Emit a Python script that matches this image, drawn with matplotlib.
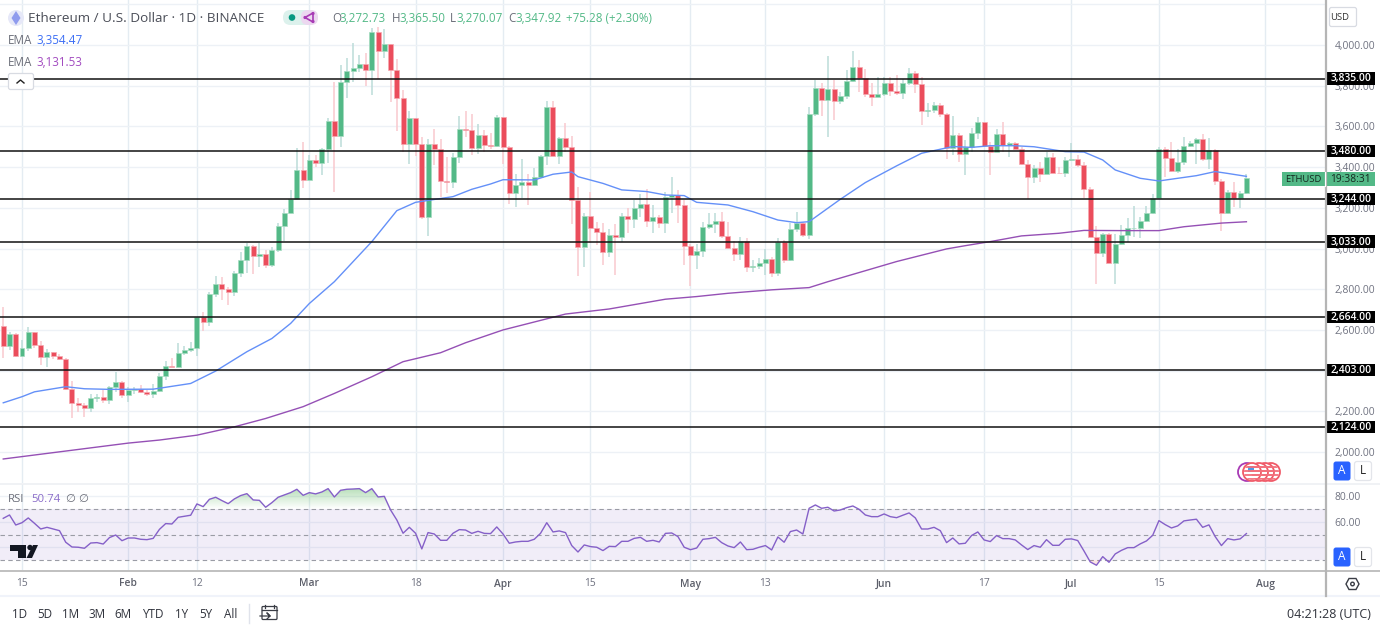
import numpy as np
import pandas as pd
import matplotlib
matplotlib.use("Agg")
import matplotlib.pyplot as plt
import matplotlib.dates as mdates
from matplotlib.patches import Circle, FancyBboxPatch, Polygon, Rectangle
from matplotlib.path import Path

plt.rcParams['font.family'] = ['Open Sans', 'DejaVu Sans']

# ETHUSD daily candles, 12 Jan to 29 Jul 2024
dates = pd.date_range('2024-01-12', periods=200)
first_open = 2619
closes = [
    2521, 2580, 2470, 2511, 2589, 2526, 2468, 2491, 2472, 2457,
    2311, 2242, 2232, 2216, 2268, 2270, 2255, 2318, 2345, 2280,
    2304, 2308, 2295, 2286, 2300, 2373, 2422, 2417, 2486, 2501,
    2509, 2663, 2639, 2776, 2825, 2801, 2784, 2879, 2943, 3012,
    2963, 2971, 2919, 2992, 3112, 3176, 3241, 3386, 3338, 3435,
    3420, 3489, 3628, 3553, 3818, 3872, 3888, 3906, 3875, 4062,
    3970, 4003, 3877, 3738, 3515, 3641, 3515, 3157, 3514, 3491,
    3332, 3329, 3451, 3589, 3582, 3494, 3558, 3509, 3504, 3646,
    3501, 3274, 3311, 3327, 3312, 3351, 3455, 3695, 3455, 3543,
    3501, 3237, 3007, 3160, 3099, 3081, 2983, 3066, 3057, 3160,
    3145, 3201, 3221, 3137, 3155, 3127, 3253, 3262, 3213, 3013,
    2970, 2986, 3106, 3121, 3137, 3062, 3003, 2972, 3037, 2910,
    2913, 2929, 2950, 2880, 3034, 2944, 3095, 3127, 3068, 3661,
    3787, 3730, 3783, 3724, 3750, 3825, 3891, 3838, 3760, 3742,
    3760, 3812, 3776, 3763, 3812, 3864, 3809, 3676, 3681, 3706,
    3661, 3496, 3558, 3463, 3501, 3566, 3620, 3505, 3476, 3563,
    3509, 3517, 3489, 3415, 3350, 3396, 3366, 3448, 3373, 3371,
    3435, 3440, 3412, 3291, 3058, 2980, 3070, 2931, 3022, 3066,
    3101, 3103, 3137, 3176, 3247, 3487, 3443, 3383, 3427, 3504,
    3517, 3537, 3438, 3484, 3332, 3173, 3278, 3250, 3271, 3347.92,
]
highs = [
    2711, 2591, 2583, 2553, 2616, 2591, 2547, 2504, 2493, 2481,
    2463, 2347, 2264, 2239, 2283, 2283, 2304, 2324, 2391, 2350,
    2321, 2321, 2329, 2304, 2334, 2390, 2447, 2462, 2534, 2521,
    2540, 2665, 2688, 2788, 2865, 2858, 2809, 2891, 2983, 3025,
    3019, 3028, 2992, 3006, 3123, 3195, 3287, 3492, 3522, 3459,
    3459, 3492, 3640, 3816, 3902, 3934, 4011, 3951, 3962, 4082,
    4087, 4079, 4003, 3930, 3779, 3676, 3641, 3546, 3537, 3586,
    3540, 3451, 3468, 3651, 3677, 3661, 3612, 3582, 3566, 3656,
    3645, 3504, 3366, 3438, 3366, 3394, 3460, 3727, 3725, 3550,
    3618, 3553, 3301, 3176, 3276, 3132, 3124, 3094, 3121, 3173,
    3198, 3239, 3268, 3291, 3214, 3165, 3280, 3353, 3288, 3239,
    3021, 3023, 3132, 3173, 3173, 3177, 3132, 3037, 3059, 3050,
    2944, 2952, 2996, 2960, 3050, 3042, 3124, 3180, 3132, 3697,
    3828, 3812, 3946, 3828, 3771, 3878, 3971, 3927, 3882, 3812,
    3845, 3842, 3842, 3851, 3832, 3886, 3874, 3842, 3714, 3722,
    3714, 3668, 3651, 3566, 3533, 3591, 3648, 3623, 3525, 3586,
    3623, 3525, 3525, 3500, 3435, 3410, 3427, 3476, 3468, 3402,
    3451, 3517, 3460, 3427, 3304, 3111, 3075, 3075, 3071, 3116,
    3148, 3211, 3157, 3211, 3268, 3497, 3500, 3525, 3487, 3546,
    3530, 3545, 3563, 3541, 3487, 3340, 3288, 3325, 3284, 3365.5,
]
lows = [
    2460, 2501, 2468, 2468, 2498, 2509, 2427, 2419, 2457, 2452,
    2304, 2168, 2195, 2173, 2198, 2247, 2242, 2236, 2296, 2267,
    2246, 2283, 2288, 2275, 2268, 2293, 2354, 2416, 2416, 2478,
    2493, 2472, 2596, 2621, 2763, 2747, 2721, 2766, 2858, 2881,
    2874, 2911, 2904, 2911, 2984, 3038, 3173, 3238, 3296, 3336,
    3399, 3361, 3422, 3279, 3500, 3738, 3820, 3869, 3798, 3754,
    3833, 3935, 3721, 3579, 3476, 3415, 3455, 3145, 3062, 3410,
    3255, 3275, 3299, 3419, 3550, 3460, 3465, 3473, 3487, 3501,
    3415, 3219, 3206, 3250, 3214, 3309, 3348, 3410, 3455, 3415,
    3476, 3120, 2865, 2911, 3029, 3016, 2919, 2957, 2870, 3031,
    3075, 3100, 3157, 3108, 3078, 3103, 3075, 3173, 3124, 2919,
    2816, 2898, 2960, 3095, 3075, 3050, 3001, 2941, 2944, 2887,
    2887, 2898, 2870, 2862, 2867, 2928, 2937, 3083, 3059, 3047,
    3651, 3651, 3550, 3632, 3711, 3733, 3820, 3768, 3743, 3701,
    3743, 3750, 3750, 3755, 3735, 3804, 3763, 3609, 3645, 3665,
    3645, 3439, 3460, 3427, 3361, 3473, 3540, 3500, 3361, 3473,
    3476, 3451, 3487, 3410, 3243, 3324, 3327, 3365, 3369, 3369,
    3353, 3430, 3402, 3247, 3055, 2824, 2957, 2927, 2827, 3016,
    3034, 3058, 3050, 3132, 3170, 3243, 3350, 3378, 3373, 3410,
    3500, 3415, 3428, 3391, 3312, 3088, 3170, 3202, 3201, 3270.07,
]
rsi = [
    62.6, 65.2, 57.4, 59.2, 62.9, 58.7, 54.3, 55.6, 54.3, 53.0,
    44.0, 40.3, 40.1, 39.3, 43.4, 43.7, 42.6, 47.6, 49.6, 45.2,
    47.3, 47.3, 46.3, 46.0, 47.0, 54.0, 58.5, 58.2, 63.4, 64.2,
    65.0, 73.8, 71.7, 77.4, 79.0, 76.4, 74.0, 77.7, 80.3, 81.8,
    76.9, 76.6, 71.2, 74.8, 79.0, 80.8, 82.6, 85.2, 80.5, 82.6,
    81.6, 83.1, 85.7, 79.2, 84.4, 85.2, 85.4, 85.7, 82.6, 85.7,
    79.2, 79.7, 69.1, 61.3, 51.0, 55.6, 51.0, 38.8, 51.5, 50.4,
    45.5, 45.5, 51.0, 53.8, 53.5, 50.9, 52.5, 50.9, 50.7, 55.9,
    50.4, 43.2, 44.2, 44.7, 44.7, 46.3, 50.9, 59.2, 52.0, 52.8,
    51.5, 41.4, 36.4, 41.9, 40.6, 40.1, 37.5, 40.8, 40.6, 44.7,
    44.7, 47.0, 47.8, 44.7, 45.5, 44.2, 50.9, 51.2, 48.4, 40.1,
    38.2, 39.5, 46.3, 46.8, 47.8, 43.7, 41.1, 39.8, 44.2, 38.2,
    38.5, 40.1, 41.4, 38.0, 48.1, 44.0, 52.3, 53.5, 50.4, 70.4,
    73.0, 70.4, 71.2, 68.3, 69.1, 70.9, 72.2, 69.6, 65.2, 63.9,
    63.9, 66.0, 63.9, 63.1, 65.0, 66.8, 62.9, 54.3, 54.3, 55.6,
    53.0, 43.7, 47.3, 42.7, 43.2, 49.2, 52.0, 45.8, 44.5, 49.2,
    46.8, 46.8, 45.8, 41.9, 38.3, 41.4, 40.1, 46.0, 41.6, 41.6,
    46.3, 46.6, 45.3, 37.2, 28.7, 26.1, 32.8, 28.4, 34.9, 37.7,
    39.8, 39.8, 42.7, 45.0, 49.4, 60.8, 57.7, 55.1, 56.7, 60.6,
    61.3, 61.9, 55.6, 57.5, 48.4, 41.4, 46.8, 45.8, 46.6, 50.74,
]

# EMA curves, read at the turning points
ema50_dates = pd.to_datetime([
    '2024-01-12', '2024-01-15', '2024-01-17', '2024-01-22', '2024-01-25', '2024-01-29',
    '2024-02-05', '2024-02-11', '2024-02-15', '2024-02-20', '2024-02-24', '2024-02-27',
    '2024-03-01', '2024-03-05', '2024-03-11', '2024-03-15', '2024-03-18', '2024-03-24',
    '2024-03-27', '2024-03-30', '2024-04-01', '2024-04-06', '2024-04-09', '2024-04-12',
    '2024-04-13', '2024-04-17', '2024-04-20', '2024-04-24', '2024-04-27', '2024-04-30',
    '2024-05-02', '2024-05-07', '2024-05-11', '2024-05-15', '2024-05-18', '2024-05-20',
    '2024-05-25', '2024-05-29', '2024-06-03', '2024-06-07', '2024-06-12', '2024-06-15',
    '2024-06-18', '2024-06-22', '2024-06-25', '2024-06-30', '2024-07-03', '2024-07-06',
    '2024-07-08', '2024-07-12', '2024-07-15', '2024-07-18', '2024-07-21', '2024-07-24',
    '2024-07-26', '2024-07-29',
])
ema50 = [
    2242, 2272, 2296, 2321, 2311, 2308, 2309, 2337, 2398, 2493, 2558, 2632,
    2730, 2837, 3034, 3186, 3227, 3255, 3291, 3317, 3338, 3337, 3365, 3376,
    3353, 3320, 3288, 3280, 3263, 3260, 3227, 3214, 3181, 3140, 3127, 3132,
    3242, 3324, 3406, 3468, 3501, 3497, 3505, 3505, 3500, 3476, 3474, 3435,
    3386, 3345, 3332, 3345, 3358, 3378, 3369, 3354.47,
]
ema200_dates = pd.to_datetime([
    '2024-01-12', '2024-02-01', '2024-02-06', '2024-02-12', '2024-02-18', '2024-02-23',
    '2024-02-29', '2024-03-05', '2024-03-11', '2024-03-16', '2024-03-22', '2024-03-26',
    '2024-04-01', '2024-04-11', '2024-04-18', '2024-04-27', '2024-05-02', '2024-05-07',
    '2024-05-14', '2024-05-20', '2024-05-23', '2024-05-29', '2024-06-03', '2024-06-11',
    '2024-06-14', '2024-06-18', '2024-06-23', '2024-06-29', '2024-07-03', '2024-07-09',
    '2024-07-15', '2024-07-19', '2024-07-25', '2024-07-29',
])
ema200 = [
    1966, 2044, 2059, 2083, 2124, 2165, 2223, 2288, 2370, 2444, 2488, 2537,
    2600, 2678, 2703, 2751, 2764, 2780, 2797, 2808, 2837, 2891, 2936, 2998,
    3014, 3034, 3062, 3075, 3089, 3088, 3088, 3107, 3125, 3131.53,
]

sr_levels = [3835, 3480, 3244, 3033, 2664, 2403, 2124]
price_ticks = list(range(2000, 4001, 200))
rsi_grid = [80, 60, 40]
rsi_labels = [80, 60]
xtick_dates = pd.to_datetime([
    '2024-01-15', '2024-02-01', '2024-02-12', '2024-03-01', '2024-03-18', '2024-04-01', '2024-04-15',
    '2024-05-01', '2024-05-13', '2024-06-01', '2024-06-17', '2024-07-01', '2024-07-15', '2024-08-01',
])
xtick_labels = ['15', 'Feb', '12', 'Mar', '18', 'Apr', '15', 'May', '13', 'Jun', '17', 'Jul', '15', 'Aug']
range_buttons = ['1D', '5D', '1M', '3M', '6M', 'YTD', '1Y', '5Y', 'All']

GREEN = '#53b987'
RED = '#eb4d5c'
GRID = '#edf1f6'
VGRID = '#e4ecf2'
TXT = '#6f7280'

W, H = 1380, 628
fig = plt.figure(figsize=(W / 100, H / 100), dpi=100, facecolor='white')


def pane(top, bottom, right=1325):
    return fig.add_axes([0, 1 - bottom / H, right / W, (bottom - top) / H])


ax = pane(0, 483)
ax2 = pane(484, 570)

x = mdates.date2num(dates)
opens = np.array([first_open] + closes[:-1], dtype=float)
closes_a = np.array(closes, dtype=float)
up = closes_a >= opens

# wicks, then bodies
ax.vlines(x[up], np.array(lows)[up], np.array(highs)[up], color='#bcdcd9', lw=1.1, zorder=2)
ax.vlines(x[~up], np.array(lows)[~up], np.array(highs)[~up], color='#f9c9ce', lw=1.1, zorder=2)
body_w = 0.8
ax.bar(x[up], closes_a[up] - opens[up], bottom=opens[up], width=body_w, color=GREEN,
       edgecolor='#a5dcc0', linewidth=0.5, zorder=3)
ax.bar(x[~up], closes_a[~up] - opens[~up], bottom=opens[~up], width=body_w, color=RED,
       edgecolor='#f6a8b0', linewidth=0.5, zorder=3)

ax.plot(mdates.date2num(ema50_dates), ema50, color='#6490f8', lw=1.0, zorder=4)
ax.plot(mdates.date2num(ema200_dates), ema200, color='#9550b5', lw=1.0, zorder=4)

for lvl in sr_levels:
    ax.axhline(lvl, color='#111111', lw=1.1, zorder=5)
    ax.add_patch(Rectangle((1.0, lvl - 31), 50 / 1325, 62, transform=ax.get_yaxis_transform(),
                           fc='black', ec='none', clip_on=False, zorder=8))
    ax.text(1351 / 1325, lvl - 1, f'{lvl:,.2f}', transform=ax.get_yaxis_transform(), color='white',
            fontsize=7.4, ha='center', va='center', fontweight='semibold', clip_on=False, zorder=9)

xlim = (x[3] + (0 - 22) / 6.247, x[3] + (1325 - 22) / 6.247)
for a in (ax, ax2):
    a.set_xlim(xlim)
    a.set_xticks(mdates.date2num(xtick_dates))
    a.grid(True, axis='y', color=GRID, lw=1)
    a.grid(True, axis='x', color=VGRID, lw=1)
    a.set_axisbelow(True)
    a.tick_params(length=0)
    for s in a.spines.values():
        s.set_visible(False)

ax.set_ylim(1848, 4221)
ax.set_yticks(price_ticks + [4200])
ax.set_yticklabels([f'{t:,.2f}' for t in price_ticks] + [''])
ax.yaxis.tick_right()
ax.tick_params(axis='y', labelsize=7.4, labelcolor=TXT, pad=7)
ax.set_xticklabels([])

# RSI pane
ax2.set_ylim(22.4, 89.3)
ax2.set_yticks(rsi_grid)
ax2.set_yticklabels([f'{t:.2f}' if t in rsi_labels else '' for t in rsi_grid])
ax2.yaxis.tick_right()
ax2.tick_params(axis='y', labelsize=7.4, labelcolor=TXT, pad=7)
ax2.axhspan(30, 70, color='#7e57c2', alpha=0.1, lw=0, zorder=1)
for lvl in (70, 50, 30):
    ax2.axhline(lvl, color='#9a9ca5', lw=0.8, dashes=(4, 3), zorder=2)

rsi_a = np.array(rsi)
over = ax2.fill_between(x, 70, rsi_a, where=rsi_a >= 70, interpolate=True, color='none', lw=0)
grad = np.zeros((64, 2, 4))
grad[..., :3] = matplotlib.colors.to_rgb('#4caf50')
grad[..., 3] = np.linspace(0.42, 0.0, 64)[:, None]
im = ax2.imshow(grad, extent=(x[0], x[-1], 70, 87), aspect='auto', origin='upper', zorder=2)
im.set_clip_path(Path.make_compound_path(*over.get_paths()), ax2.transData)
ax2.fill_between(x, 30, rsi_a, where=rsi_a <= 30, interpolate=True, color='#ef5350', alpha=0.15, lw=0, zorder=2)
ax2.plot(x, rsi_a, color='#8560c8', lw=1.0, zorder=4)
ax2.set_xlim(xlim)
ax2.set_ylim(22.4, 89.3)
ax2.set_xticklabels([])

# everything that sits in screen pixels goes on an overlay
ui = fig.add_axes([0, 0, 1, 1], zorder=10, facecolor='none')
ui.set_xlim(0, W)
ui.set_ylim(H, 0)
ui.axis('off')

for d, lab in zip(mdates.date2num(xtick_dates), xtick_labels):
    px = (d - xlim[0]) * 6.247
    bold = not lab.isdigit()
    ui.text(px, 584, lab, fontsize=7.4, ha='center', va='center', color='#5c5f6a' if bold else TXT,
            fontweight='semibold' if bold else 'normal')

# pane borders
ui.plot([0, 1380], [483.5, 483.5], color='#eef0f3', lw=1.2)
ui.plot([0, 1380], [570.5, 570.5], color='#b5b5b5', lw=1.2)
ui.plot([0, 1380], [595.5, 595.5], color='#f0f3fa', lw=1.5)
ui.plot([1325.5, 1325.5], [0, 596], color='#b5b5b5', lw=1.6)

# legend rows
ui.add_patch(Circle((16, 18), 8, fc='#e6e8f8', ec='none'))
ui.add_patch(Polygon([(16, 11), (20.5, 18), (16, 25), (11.5, 18)], fc='#8f9bee', ec='none'))
ui.text(28, 19, 'Ethereum / U.S. Dollar · 1D · BINANCE', fontsize=9.7, color='#4a4d57', va='center')
ui.add_patch(FancyBboxPatch((283, 10), 33, 15, boxstyle='round,pad=0,rounding_size=7.5', fc='#dcf1ec', ec='none'))
ui.add_patch(FancyBboxPatch((301, 10), 17, 15, boxstyle='round,pad=0,rounding_size=7', fc='#ecd8f0', ec='none'))
ui.add_patch(Circle((292, 17.5), 3.3, fc='#089981', ec='none'))
ui.plot([313, 305, 313, 313], [13, 17.5, 22, 13], color='#a83bb5', lw=1.2)
ui.add_patch(Circle((313, 13.5), 1.6, fc='#a83bb5', ec='none'))
ui.add_patch(Circle((313, 21.5), 1.6, fc='#a83bb5', ec='none'))
ui.add_patch(Circle((305, 17.5), 1.6, fc='#a83bb5', ec='none'))

for px, letter, val in [(332, 'O', '3,272.73'), (392, 'H', '3,365.50'), (450, 'L', '3,270.07'), (508, 'C', '3,347.92')]:
    ui.text(px, 18.5, letter, fontsize=8.4, color='#6a6d78', va='center')
    ui.text(px + (7 if letter != 'L' else 6), 18.5, val, fontsize=8.4, color=GREEN, va='center')
ui.text(566, 18.5, '+75.28 (+2.30%)', fontsize=8.4, color=GREEN, va='center')

ui.text(8, 40, 'EMA', fontsize=8.4, color='#6a6d78', va='center')
ui.text(36, 40, '3,354.47', fontsize=8.4, color='#3d6ff5', va='center')
ui.text(8, 62, 'EMA', fontsize=8.4, color='#6a6d78', va='center')
ui.text(36, 62, '3,131.53', fontsize=8.4, color='#a24bc0', va='center')
ui.add_patch(FancyBboxPatch((8.5, 73.5), 25, 16, boxstyle='round,pad=0,rounding_size=2', fc='white', ec='#d8dbe2', lw=0.9))
ui.plot([17, 20.5, 24], [83, 80, 83], color='#222222', lw=1)
ui.text(8, 500, 'RSI', fontsize=8.2, color='#6a6d78', va='center')
ui.text(31, 500, '50.74', fontsize=8.2, color='#8a6cc9', va='center')
ui.text(65, 500, '∅', fontsize=8.2, color='#6a6d78', va='center')
ui.text(78, 500, '∅', fontsize=8.2, color='#6a6d78', va='center')

# top right currency button
ui.add_patch(FancyBboxPatch((1329.5, 7.5), 27, 19, boxstyle='round,pad=0,rounding_size=2', fc='white', ec='#d8dbe2', lw=0.9))
ui.text(1340, 17.5, 'USD', fontsize=6.8, color='#333333', ha='center', va='center')

# last price tag
ui.add_patch(Rectangle((1282, 171.5), 92.5, 14, fc=GREEN, ec='none'))
ui.plot([1324.5, 1324.5], [171.5, 185.5], color='white', lw=0.8)
ui.text(1303, 179, 'ETHUSD', fontsize=6.8, color='#14281f', ha='center', va='center')
ui.text(1350, 179, '19:38:31', fontsize=7.4, color='#14281f', ha='center', va='center')

# event markers
ui.add_patch(Circle((1247, 472), 9, fc='white', ec='#a83bb5', lw=1.3))
for cx in (1271, 1265, 1259, 1252):
    ui.add_patch(Circle((cx, 472), 9, fc='white', ec='#f05a68', lw=1.3))
    clip = Circle((cx, 472), 8, transform=ui.transData)
    for sy in (467, 471, 475, 479):
        ln, = ui.plot([cx - 9, cx + 9], [sy, sy], color='#f2707c', lw=1.3)
        ln.set_clip_path(clip)
ui.add_patch(Rectangle((1247.5, 465.5), 6, 6, fc='#4d9be8', ec='none'))

# auto / log buttons
for by in (471, 557):
    ui.add_patch(FancyBboxPatch((1333.5, by - 9.5), 17, 19, boxstyle='round,pad=0,rounding_size=2.5', fc='#2962ff', ec='none'))
    ui.text(1342, by, 'A', fontsize=8.5, color='white', ha='center', va='center')
    ui.add_patch(FancyBboxPatch((1354.5, by - 9.5), 17, 19, boxstyle='round,pad=0,rounding_size=2.5', fc='white', ec='#e3e5ea', lw=0.9))
    ui.text(1363, by, 'L', fontsize=8.5, color='#222222', ha='center', va='center')

# settings hexagon
ui.add_patch(Polygon([(1346, 584), (1349, 578.5), (1356, 578.5), (1359, 584), (1356, 589.5), (1349, 589.5)],
                     fc='white', ec='#3a3d45', lw=1))
ui.add_patch(Circle((1352.5, 584), 1.8, fc='white', ec='#3a3d45', lw=1))

# TradingView mark
ui.add_patch(Polygon([(10, 545), (26, 545), (26, 558), (18, 558), (18, 551), (10, 551)], fc='#131722', ec='none'))
ui.add_patch(Circle((30, 547.5), 2.7, fc='#131722', ec='none'))
ui.add_patch(Polygon([(33, 545), (38, 545), (32, 558), (26.5, 558)], fc='#131722', ec='none'))

# bottom toolbar
for px, lab in zip([20, 45, 71, 97, 123, 153, 182, 206, 231], range_buttons):
    ui.text(px, 614, lab, fontsize=8.4, color='#2f323b', ha='center', va='center')
ui.plot([248.5, 248.5], [604, 623], color='#e0e3eb', lw=1)
ui.add_patch(FancyBboxPatch((262, 606.5), 15, 13, boxstyle='round,pad=0,rounding_size=1', fc='white', ec='#3a3d45', lw=0.9))
ui.plot([265, 265], [604.5, 608], color='#3a3d45', lw=0.9)
ui.plot([274, 274], [604.5, 608], color='#3a3d45', lw=0.9)
ui.plot([262, 277], [610, 610], color='#3a3d45', lw=0.9)
ui.plot([260, 270, 267, 270, 267], [616, 616, 613, 616, 619], color='#3a3d45', lw=0.9)
ui.text(1370.5, 614, '04:21:28 (UTC)', fontsize=9, color='#2f323b', ha='right', va='center')

fig.savefig('out.png', dpi=100)
